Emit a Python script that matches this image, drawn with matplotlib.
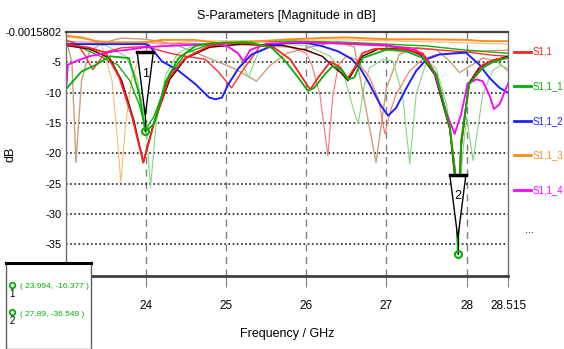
import matplotlib
matplotlib.use("Agg")
import matplotlib.pyplot as plt
from matplotlib.lines import Line2D
from matplotlib.patches import Rectangle, Polygon

plt.rcParams['font.family'] = ['Liberation Sans', 'DejaVu Sans']

# === Data ===
f_red = [23.0, 23.3, 23.5, 23.67, 23.83, 23.97, 24.1, 24.29, 24.49, 24.79, 25.0, 25.3, 25.6, 25.8,
         25.95, 26.05, 26.15, 26.3, 26.42, 26.52, 26.62, 26.7, 26.85, 27.2, 27.45, 27.62, 27.79,
         27.86, 27.89, 27.93, 28.03, 28.2, 28.37, 28.515]
s11 = [-2.0, -2.6, -3.4, -7.5, -14.0, -21.5, -15.2, -7.5, -4.3, -2.3, -1.8, -1.9, -2.6, -4.5,
       -7.5, -9.5, -7.5, -4.9, -5.8, -7.6, -5.5, -3.5, -2.8, -2.9, -3.5, -7.0, -15.7,
       -23.4, -35.0, -18.5, -8.6, -5.4, -4.5, -4.3]

f_red2 = [23.0, 23.15, 23.25, 23.34, 23.42, 23.5, 23.7, 24.0, 24.3, 24.5, 24.74, 24.9, 25.07,
          25.2, 25.42, 25.7, 26.0, 26.5, 27.0, 27.5, 28.0, 28.3, 28.515]
s11_b = [-1.3, -2.0, -4.0, -6.2, -4.8, -3.3, -2.6, -2.4, -3.5, -4.0, -4.5, -6.5, -9.2,
         -6.5, -2.4, -1.8, -1.7, -2.0, -2.3, -2.8, -3.3, -3.8, -4.0]

f_green = [23.0, 23.2, 23.38, 23.55, 23.79, 23.92, 23.994, 24.1, 24.25, 24.41, 24.62, 24.8, 25.0,
           25.32, 25.57, 25.74, 25.9, 26.02, 26.1, 26.23, 26.33, 26.44, 26.52, 26.6, 26.7, 27.0,
           27.25, 27.46, 27.62, 27.79, 27.86, 27.89, 27.93, 28.03, 28.2, 28.32, 28.515]
s11_1 = [-9.5, -6.5, -5.4, -4.0, -4.3, -10.3, -16.377, -15.2, -8.1, -4.3, -2.3, -1.9, -1.7,
         -1.8, -2.6, -4.8, -7.5, -9.7, -9.2, -7.0, -5.6, -6.2, -7.8, -7.5, -4.3, -2.9,
         -3.2, -4.3, -7.0, -15.7, -24.0, -36.549, -18.0, -8.6, -5.9, -5.0, -4.2]

f_green2 = [23.0, 23.2, 23.4, 23.65, 23.8, 23.92, 24.0, 24.1, 24.3, 24.5, 24.8, 25.2, 25.8, 26.5,
            27.0, 27.5, 28.0, 28.515]
s11_1b = [-2.0, -2.6, -3.8, -5.4, -8.0, -12.0, -16.0, -14.0, -7.0, -3.5, -2.0, -1.6, -1.5, -1.7,
          -2.0, -2.3, -3.0, -3.5]

f_blue = [23.0, 23.5, 24.0, 24.04, 24.2, 24.41, 24.62, 24.79, 24.87, 24.95, 25.03, 25.16, 25.32,
          25.57, 25.74, 26.0, 26.19, 26.4, 26.56, 26.67, 26.79, 26.92, 27.02, 27.12, 27.25, 27.37,
          27.5, 27.66, 27.99, 28.16, 28.28, 28.41, 28.515]
s11_2 = [-2.0, -2.0, -2.0, -2.2, -4.8, -6.4, -8.6, -10.8, -11.1, -10.8, -8.6, -5.9, -3.7,
         -2.3, -1.8, -1.8, -2.3, -3.2, -4.4, -5.9, -8.6, -11.9, -13.8, -12.5, -9.2, -6.4,
         -4.5, -3.7, -3.4, -5.4, -7.5, -9.2, -10.0]

f_orange = [23.0, 23.2, 23.38, 23.6, 23.9, 24.05, 24.2, 24.6, 24.9, 25.2, 25.45, 25.8, 26.2, 26.5,
            27.0, 27.4, 28.0, 28.2, 28.515]
s11_3 = [-0.6, -0.9, -1.5, -1.7, -1.7, -1.6, -1.3, -1.3, -1.8, -1.8, -1.5, -1.2, -1.0, -0.9,
         -1.2, -1.2, -1.3, -1.5, -1.5]

f_mag = [23.0, 23.03, 23.13, 23.3, 23.59, 23.79, 24.0, 24.4, 24.8, 25.0, 25.15, 25.22, 25.3, 25.5,
         26.0, 26.5, 26.95, 27.2, 27.37, 27.5, 27.62, 27.74, 27.85, 27.93, 28.01, 28.12, 28.2,
         28.28, 28.34, 28.41, 28.515]
s11_4 = [-11.0, -5.4, -4.8, -4.0, -3.2, -2.9, -2.5, -2.2, -2.0, -2.2, -3.5, -4.8, -3.0, -1.9,
         -1.7, -1.9, -2.1, -2.6, -3.0, -4.3, -7.5, -13.0, -16.8, -13.6, -8.6, -7.8, -8.1,
         -10.3, -12.7, -11.9, -8.5]

# unlisted traces ("...")
f_tan = [23.0, 23.08, 23.13, 23.2, 23.3, 23.46, 23.7, 24.0, 24.2, 24.43, 24.84, 25.1, 25.38, 25.55,
         25.76, 26.08, 26.4, 26.6, 26.75, 26.87, 27.0, 27.16, 27.37, 27.62, 27.79, 27.91, 28.07,
         28.2, 28.37, 28.515]
tan_db = [-0.8, -5.0, -21.5, -8.0, -3.2, -1.8, -1.0, -1.2, -1.6, -2.4, -4.6, -6.0, -8.1, -5.5,
          -3.5, -2.4, -1.6, -2.5, -13.0, -21.5, -9.2, -3.7, -2.6, -2.9, -4.8, -6.7, -5.4,
          -4.3, -4.8, -6.4]

f_lorange = [23.0, 23.3, 23.45, 23.58, 23.65, 23.69, 23.75, 23.83, 23.92, 24.0, 24.2, 24.6, 25.5,
             26.5, 27.5, 28.515]
lorange_db = [-0.8, -1.2, -2.0, -8.0, -18.0, -24.8, -15.0, -7.5, -4.3, -3.0, -2.0, -1.5, -1.4,
              -1.3, -1.6, -2.0]

f_lgreen = [23.0, 23.5, 23.75, 23.9, 24.0, 24.06, 24.13, 24.25, 24.4, 24.6, 25.0, 25.15, 25.28,
            25.4, 25.6, 26.0, 26.3, 26.48, 26.6, 26.65, 26.72, 26.79, 26.96, 27.08, 27.2, 27.29,
            27.37, 27.5, 27.62, 27.75, 27.85, 27.88, 27.95, 28.0, 28.08, 28.2, 28.32, 28.42, 28.515]
lgreen_db = [-1.8, -2.2, -4.0, -8.0, -15.0, -25.6, -15.0, -7.0, -3.5, -2.2, -2.0, -3.5, -7.5,
             -3.5, -2.0, -2.2, -4.0, -7.5, -13.3, -15.0, -9.0, -5.9, -4.5, -4.8, -10.3, -21.7,
             -10.3, -4.8, -6.0, -12.0, -22.0, -33.0, -20.0, -14.0, -21.2, -10.3, -6.4, -5.5, -6.0]

f_lred = [23.0, 24.0, 25.0, 25.8, 26.0, 26.07, 26.17, 26.27, 26.33, 26.4, 26.5, 26.62, 26.79, 26.9,
          26.98, 27.05, 27.12, 27.29, 27.45, 27.6, 27.8, 28.0, 28.515]
lred_db = [-1.6, -1.8, -2.0, -2.5, -3.5, -5.4, -10.3, -20.4, -10.8, -5.4, -4.0, -4.5, -7.5, -11.0,
           -16.8, -13.0, -10.3, -6.4, -4.5, -3.8, -3.5, -3.2, -3.0]

f_dark = [23.0, 23.3, 23.55, 23.7, 23.85, 23.97, 24.1, 24.3, 24.5, 24.8, 25.2, 25.7, 26.0, 26.2,
          26.33, 26.44, 26.52, 26.6, 26.7, 26.9, 27.2, 27.42, 27.6, 27.79, 27.86, 27.89, 27.93,
          28.03, 28.15, 28.3, 28.515]
dark_db = [-2.2, -2.8, -4.3, -8.0, -14.5, -21.5, -15.0, -7.8, -4.3, -2.5, -2.0, -2.2, -3.0, -4.0,
           -5.6, -6.8, -8.0, -6.2, -4.0, -2.8, -2.6, -3.7, -7.0, -16.0, -25.0, -30.0, -19.0,
           -8.4, -6.0, -4.8, -4.0]

marker_f = [23.994, 27.89]
marker_db = [-16.377, -36.549]
marker_names = ["1", "2"]

legend_labels = ["S1,1", "S1,1_1", "S1,1_2", "S1,1_3", "S1,1_4"]
legend_colors = ["#FF2020", "#00B000", "#2020FF", "#FF8C1A", "#FF00FF"]

x_ticks = [24, 25, 26, 27, 28, 28.515]
x_ticklabels = ["24", "25", "26", "27", "28", "28.515"]
y_ticks = [-0.0015802, -5, -10, -15, -20, -25, -30, -35]
y_ticklabels = ["-0.0015802", "-5", "-10", "-15", "-20", "-25", "-30", "-35"]

# === Figure ===
W, H = 564, 349
fig = plt.figure(figsize=(W / 100, H / 100), dpi=100)
ax = fig.add_axes([65.5 / W, 1 - 276 / H, (508 - 65.5) / W, (276 - 32) / H])

# thin traces first
ax.plot(f_lorange, lorange_db, color="#FFB870", lw=0.8)
ax.plot(f_tan, tan_db, color="#C8A078", lw=1.0)
ax.plot(f_lgreen, lgreen_db, color="#80D880", lw=0.8)
ax.plot(f_lred, lred_db, color="#FF7070", lw=0.8)
ax.plot(f_green2, s11_1b, color="#10B010", lw=1.0)
ax.plot(f_red2, s11_b, color="#FF3030", lw=1.0)
ax.plot(f_dark, dark_db, color="#500000", lw=1.1)

# main traces
ax.plot(f_orange, s11_3, color=legend_colors[3], lw=1.4)
ax.plot(f_blue, s11_2, color=legend_colors[2], lw=1.4)
ax.plot(f_mag, s11_4, color=legend_colors[4], lw=1.3)
ax.plot(f_red, s11, color=legend_colors[0], lw=1.3)
ax.plot(f_green, s11_1, color=legend_colors[1], lw=1.3)

# markers (inverted triangles)
for mf, md, name in zip(marker_f, marker_db, marker_names):
    top, tip = md + 13, md + 2.6
    tri = Polygon([[mf - 0.1, top], [mf + 0.1, top], [mf, tip]], closed=True,
                  facecolor="white", edgecolor="black", lw=1.0, zorder=6)
    ax.add_patch(tri)
    ax.plot([mf - 0.1, mf + 0.1], [top, top], color="black", lw=2.5, zorder=7)
    ax.plot([mf, mf], [tip, md], color="black", lw=0.8, zorder=6)
    ax.text(mf, md + 9.5, name, ha="center", va="center", fontsize=9, zorder=8)
    ax.plot(mf, md, "o", ms=5, mfc="none", mec="#00B000", mew=1.5, zorder=8)

ax.set_xlim(23.0, 28.515)
ax.set_ylim(-40.2, -0.0015802)
ax.set_xticks(x_ticks)
ax.set_xticklabels(x_ticklabels)
ax.set_yticks(y_ticks)
ax.set_yticklabels(y_ticklabels)
ax.tick_params(axis="x", length=8, color="#808080", pad=9, labelsize=8.5)
ax.tick_params(axis="y", length=0, pad=3, labelsize=8)

for v in x_ticks[:-1]:
    ax.axvline(v, color="#808080", lw=1.0, dashes=(5, 4), zorder=0.5)
for v in y_ticks[1:]:
    ax.axhline(v, color="#202020", lw=1.2, ls=(0, (1, 1.5)), zorder=0.5)

for side in ["left", "right"]:
    ax.spines[side].set_color("#707070")
    ax.spines[side].set_linewidth(1.0)
ax.spines["top"].set_color("#404040")
ax.spines["top"].set_linewidth(1.6)
ax.spines["bottom"].set_color("#404040")
ax.spines["bottom"].set_linewidth(2.0)

ax.set_title("S-Parameters [Magnitude in dB]", fontsize=9, pad=9)
ax.set_xlabel("Frequency / GHz", fontsize=9, labelpad=12)
fig.text(11 / W, 1 - 154 / H, "dB", rotation=90, ha="center", va="center", fontsize=9)

# === Legend (right side) ===
leg_y = [52, 86, 121, 155, 190]
for lab, col, yy in zip(legend_labels, legend_colors, leg_y):
    fig.add_artist(Line2D([514 / W, 531 / W], [1 - yy / H, 1 - yy / H], color=col, lw=2))
    fig.text(533 / W, 1 - yy / H, lab, color=col, ha="left", va="center", fontsize=7)
fig.text(530 / W, 1 - 230 / H, "...", ha="center", va="center", fontsize=8)

# === Marker table (bottom-left) ===
box = Rectangle((6 / W, 0), (91 - 6) / W, 1 - 263 / H, transform=fig.transFigure,
                facecolor="white", edgecolor="#606060", lw=1.0, zorder=10)
fig.add_artist(box)
fig.add_artist(Line2D([6 / W, 91 / W], [1 - 263 / H, 1 - 263 / H], color="black", lw=2.2, zorder=11))
rows_y = [285, 312]
for name, mf, md, yy in zip(marker_names, marker_f, marker_db, rows_y):
    fig.add_artist(Line2D([12 / W], [1 - yy / H], marker="o", ms=4, mfc="none", mec="#00B000",
                          mew=1.3, zorder=12))
    fig.text(12 / W, 1 - (yy + 9) / H, name, ha="center", va="center", fontsize=7, zorder=12)
    fig.text(20 / W, 1 - (yy + 2) / H, "( %s, %s )" % (f"{mf:g}", f"{md:g}"), color="#00B000",
             ha="left", va="center", fontsize=6, zorder=12)

fig.savefig("out.png", dpi=100)
